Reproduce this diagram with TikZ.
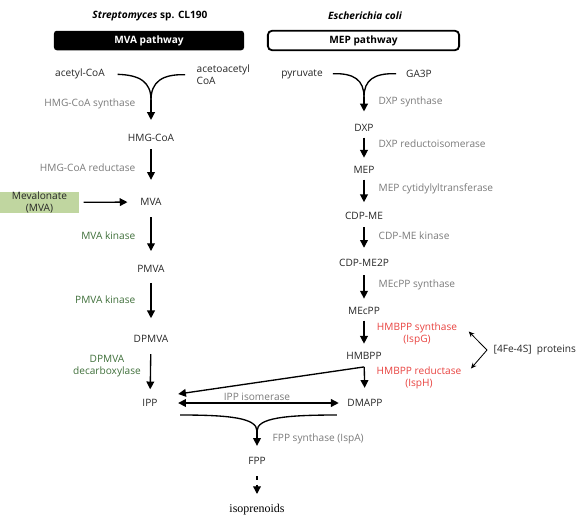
\documentclass[tikz,border=0pt]{standalone}
\usepackage{fontspec}
\setmainfont{Open Sans}
\newfontfamily\serifname{Liberation Serif}
\usetikzlibrary{arrows.meta}
\definecolor{metab}{HTML}{262626}
\definecolor{enzgray}{HTML}{7A7A7A}
\definecolor{enzgreen}{HTML}{3F6F3A}
\definecolor{enzred}{HTML}{E8423F}
\definecolor{mvagreen}{HTML}{C0D6A0}

\begin{document}
\begin{tikzpicture}[x=0.025cm, y=-0.025cm,
	font=\fontsize{7.2}{8.6}\selectfont,
	met/.style={text=metab, inner sep=1pt},
	enz/.style={text=enzgray, inner sep=1pt},
	mvaenz/.style={text=enzgreen, inner sep=1pt},
	ironenz/.style={text=enzred, inner sep=1pt, align=center},
	link/.style={line width=0.95pt},
	arr/.style={link, -{Triangle[length=5.5pt,width=5.5pt]}},
	smallarr/.style={line width=0.6pt, -{Stealth[length=4pt,width=3.5pt]}},
	]
	\useasboundingbox (0,0) rectangle (580,515);

	% organisms and pathway headers
	\node (org1) at (150,16) {\bfseries\itshape Streptomyces\/ \upshape sp. CL190};
	\node (org2) at (365,16) {\bfseries\itshape Escherichia coli};
	\node (mvahead) [fill=black, text=white, rounded corners=2pt,
		minimum width=4.75cm, minimum height=0.475cm] at (149,40.5) {\bfseries MVA pathway};
	\node (mephead) [draw, line width=1.3pt, rounded corners=3pt,
		minimum width=4.78cm, minimum height=0.44cm] at (363.5,40.5) {\bfseries MEP pathway};

	% MVA pathway
	\node[met] (acetyl) at (80,74) {acetyl-CoA};
	\node[met, anchor=west, align=left] (acac) at (195,75) {acetoacetyl\\CoA};
	\node[met] (hmgcoa) at (151,138) {HMG-CoA};
	\node[met] (mva) at (151,202) {MVA};
	\node[met] (pmva) at (151,269) {PMVA};
	\node[met] (dpmva) at (151,339) {DPMVA};
	\node[met] (ipp) at (150,403) {IPP};
	\node (mvabox) [fill=mvagreen, text=metab, inner sep=0pt, align=center,
		minimum width=1.975cm, minimum height=0.5cm,
		font=\fontsize{7.2}{8.8}\selectfont] at (39.5,202.5) {Mevalonate\\(MVA)};

	\coordinate (mvajoin) at (151,100);
	\draw[link, shorten <=8pt] (acetyl.east) .. controls (140,75) and (151,82) .. (mvajoin);
	\draw[link, shorten <=7pt] (acac.west) .. controls (162,74) and (151,82) .. (mvajoin);
	\draw[arr, shorten >=9pt] (mvajoin) -- (hmgcoa.north);
	\draw[arr, shorten <=4pt, shorten >=12pt] (hmgcoa) -- (mva);
	\draw[arr, shorten <=3pt, shorten >=8pt] (mvabox) -- (mva);
	\draw[arr, shorten <=7pt, shorten >=9pt] (mva) -- (pmva);
	\draw[arr, shorten <=6pt, shorten >=11pt] (pmva) -- (dpmva);
	\draw[arr, shorten <=7pt, shorten >=6pt] (dpmva) -- (ipp);

	\node[enz, anchor=east] at (137,104) {HMG-CoA synthase};
	\node[enz, anchor=east] at (137,168) {HMG-CoA reductase};
	\node[mvaenz, anchor=east] at (137,236) {MVA kinase};
	\node[mvaenz, anchor=east] at (137,300) {PMVA kinase};
	\node[mvaenz, align=center] at (107,366) {DPMVA\\decarboxylase};

	% MEP pathway
	\node[met] (pyr) at (302,74) {pyruvate};
	\node[met] (gap) at (419,74) {GA3P};
	\node[met] (dxp) at (364,128) {DXP};
	\node[met] (mep) at (364,170) {MEP};
	\node[met] (cdpme) at (364,216) {CDP-ME};
	\node[met] (cdpme2p) at (364,263) {CDP-ME2P};
	\node[met] (mecpp) at (364,311) {MEcPP};
	\node[met] (hmbpp) at (364,356) {HMBPP};
	\node[met] (dmapp) at (365,403) {DMAPP};

	\coordinate (mepjoin) at (364,97);
	\draw[link, shorten <=6pt] (pyr.east) .. controls (354,73) and (364,80) .. (mepjoin);
	\draw[link, shorten <=6pt] (gap.west) .. controls (374,73) and (364,80) .. (mepjoin);
	\draw[arr, shorten >=8pt] (mepjoin) -- (dxp.north);
	\draw[arr, shorten <=3pt, shorten >=5pt] (dxp) -- (mep);
	\draw[arr, shorten <=3pt, shorten >=6pt] (mep) -- (cdpme);
	\draw[arr, shorten <=4pt, shorten >=7pt] (cdpme) -- (cdpme2p);
	\draw[arr, shorten <=5pt, shorten >=5pt] (cdpme2p) -- (mecpp);
	\draw[arr, shorten <=3pt, shorten >=5pt] (mecpp) -- (hmbpp);
	\draw[arr, shorten <=4pt, shorten >=7pt] (hmbpp) -- (dmapp);

	\node[enz, anchor=west] at (377,102) {DXP synthase};
	\node[enz, anchor=west] at (377,144) {DXP reductoisomerase};
	\node[enz, anchor=west] at (377,189) {MEP cytidylyltransferase};
	\node[enz, anchor=west] at (377,236) {CDP-ME kinase};
	\node[enz, anchor=west] at (377,285) {MEcPP synthase};
	\node[ironenz] (ispg) at (417,333.5) {HMBPP synthase\\(IspG)};
	\node[ironenz] (isph) at (419,377.5) {HMBPP reductase\\(IspH)};

	% iron-sulfur enzymes
	\node[met, anchor=west] (fes) at (492,350) {[4Fe-4S]~~proteins};
	\coordinate (fesfork) at (487,350);
	\draw[smallarr] (fesfork) -- ([shift={(10,-2)}]ispg.east);
	\draw[smallarr] (fesfork) -- ([shift={(8,-9)}]isph.east);

	% IPP / DMAPP to FPP
	\draw[arr] ([yshift=-4pt]hmbpp.south) -- ([shift={(19,-9)}]ipp.east);
	\draw[link, {Triangle[length=5.5pt,width=5.5pt]}-{Triangle[length=5.5pt,width=5.5pt]},
		shorten <=13.5pt, shorten >=5pt] (ipp.east) -- (dmapp.west);
	\node[enz] at (257,397) {IPP isomerase};

	\node[met] (fpp) at (257,461) {FPP};
	\node[text=black, font=\serifname\fontsize{8.5}{9}\selectfont] (iso) at (257,510) {isoprenoids};
	\coordinate (fppjoin) at (257,431);
	\draw[link] ([shift={(21,12)}]ipp.east) .. controls (230,415) and (257,418) .. (fppjoin);
	\draw[link] ([shift={(-9,12)}]dmapp.west) .. controls (285,415) and (257,418) .. (fppjoin);
	\draw[arr, shorten >=7pt] (fppjoin) -- (fpp.north);
	\node[enz, anchor=west] at (271,439) {FPP synthase (IspA)};
	\draw[arr, dashed, shorten <=7pt, shorten >=4pt] (fpp) -- (iso.north);
\end{tikzpicture}
\end{document}
